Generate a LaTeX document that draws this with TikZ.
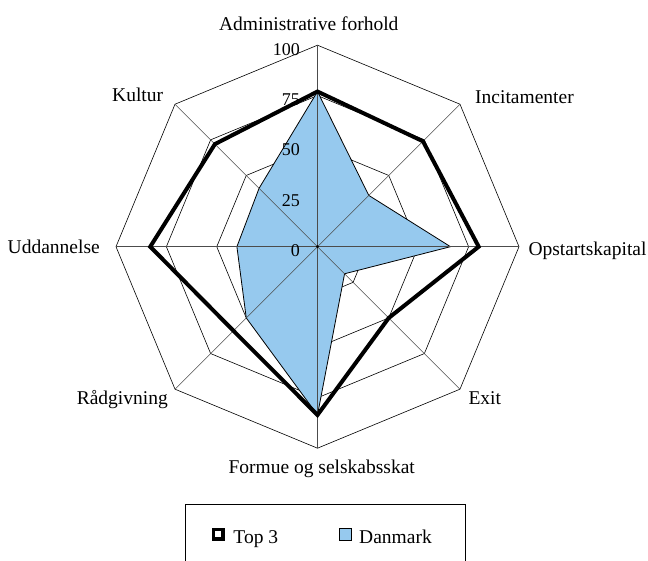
\documentclass[tikz,border=0pt]{standalone}
\usepackage{fontspec}
\setmainfont{Liberation Serif}
\definecolor{dkblue}{RGB}{150,201,238}
\tikzset{
    ring/.style={black,line width=0.6pt},
    spoke/.style={black!70,line width=0.6pt},
    lbl/.style={font=\fontsize{19.5}{22}\selectfont,inner sep=0pt},
    tick/.style={font=\fontsize{18}{20}\selectfont,inner sep=0pt,anchor=east},
}
\begin{document}
\begin{tikzpicture}[x=1pt,y=1pt]
        \useasboundingbox (-317.5,-314.3) rectangle (330.5,246.7);
        \begin{scope}[scale=2.015]
            % rings
            \foreach \r in {25,50,75,100}
                \draw[ring] (0:\r) \foreach \a in {45,90,...,315} {-- (\a:\r)} -- cycle;
            % Danmark
            \filldraw[fill=dkblue,draw=black,line width=0.8pt] (90:77) -- (45:36) -- (0:66) -- (-45:19)
                -- (-90:83.5) -- (-135:50) -- (180:40) -- (135:41) -- cycle;
            % spokes
            \foreach \a in {0,45,...,315}
                \draw[spoke] (0,0) -- (\a:100);
            \fill (0,0) circle (0.75);
            % Top 3
            \draw[line width=4pt,line join=miter] (90:77) -- (45:74) -- (0:80) -- (-45:50)
                -- (-90:83.5) -- (-135:59) -- (180:83) -- (135:72) -- cycle;
        \end{scope}
        \foreach \v in {0,25,50,75,100}
            \node[tick] (t\v) at (-17.5,2.015*\v-4) {\v};
        % axis names
        \node[lbl,anchor=base] (adm) at (-8.7,215.7) {Administrative forhold};
        \node[lbl,anchor=base west] (inc) at (157.5,143.4) {Incitamenter};
        \node[lbl,anchor=base west] (ops) at (210.8,-9.3) {Opstartskapital};
        \node[lbl,anchor=base west] (exi) at (150.8,-158.3) {Exit};
        \node[lbl,anchor=base] (for) at (4.2,-227.3) {Formue og selskabsskat};
        \node[lbl,anchor=base east] (rad) at (-149.5,-158.3) {Rådgivning};
        \node[lbl,anchor=base east] (udd) at (-217.5,-6.6) {Uddannelse};
        \node[lbl,anchor=base east] (kul) at (-154.2,145) {Kultur};
        % legend
        \draw[ring] (-132.5,-257.3) rectangle (147.5,-320);
        \node[draw,line width=3.5pt,fill=white,minimum size=9.5pt,inner sep=0pt] (m1) at (-99.2,-287.5) {};
        \node[lbl,anchor=base west] (l1) at (-84.2,-297.3) {Top 3};
        \node[draw,line width=0.8pt,fill=dkblue,minimum size=12.5pt,inner sep=0pt] (m2) at (27.8,-287.5) {};
        \node[lbl,anchor=base west] (l2) at (41.5,-297.3) {Danmark};
    \end{tikzpicture}
\end{document}
